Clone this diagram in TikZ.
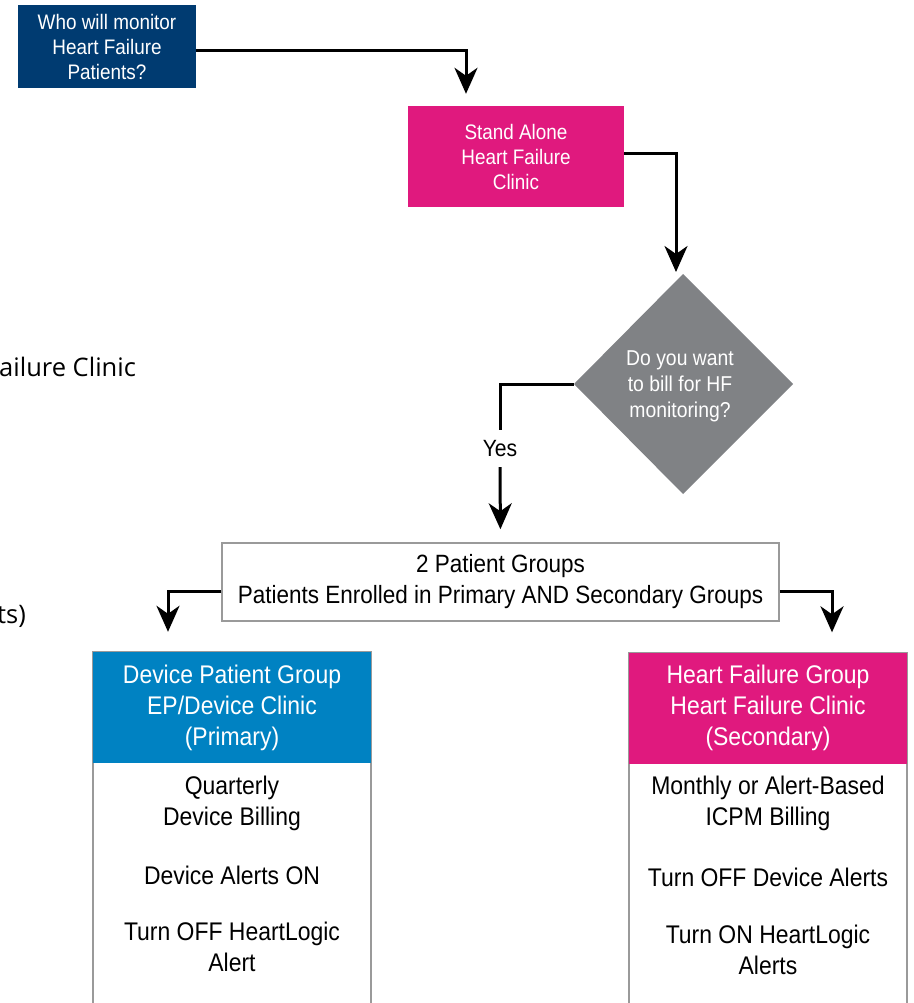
\documentclass[tikz,border=0pt]{standalone}
\usepackage{fontspec}
\setmainfont[FakeStretch=0.9]{Liberation Sans}
\newfontfamily\sidefont{Open Sans}
\usetikzlibrary{arrows.meta,calc}
\definecolor{navy}{HTML}{003B71}
\definecolor{magenta}{HTML}{E0197E}
\definecolor{slate}{HTML}{808285}
\definecolor{azure}{HTML}{0082C2}
\definecolor{edgegray}{HTML}{9A9A9A}
\begin{document}
\begin{tikzpicture}[x=1pt,y=-1pt,
  flow/.style={line width=3pt,-{Stealth[length=26pt,width=23pt,inset=8pt]}},
  link/.style={line width=3pt},
  topbox/.style={rectangle,inner sep=0pt,align=center,text=white,font=\fontsize{21}{25}\selectfont},
  colhead/.style={rectangle,inner sep=0pt,align=center,text=white,minimum width=278pt,minimum height=111pt,font=\fontsize{25.5}{31}\selectfont},
  coltext/.style={align=center,inner sep=0pt,font=\fontsize{25.5}{31}\selectfont}]
\useasboundingbox (0,0) rectangle (913,1003);

% top question and clinic box
\node[topbox,fill=navy,minimum width=178pt,minimum height=83pt] (who) at (107,46.5)
  {Who will monitor\\Heart Failure\\Patients?};
\node[topbox,fill=magenta,minimum width=216pt,minimum height=101pt] (clinic) at (516,156.5)
  {Stand Alone\\Heart Failure\\Clinic};

% decision diamond
\coordinate (dtop) at (683,274);
\coordinate (dright) at (793,384);
\coordinate (dbottom) at (683,494);
\coordinate (dleft) at (574,384);
\fill[slate] (dtop) -- (dright) -- (dbottom) -- (dleft) -- cycle;
\node[align=center,text=white,inner sep=0pt,font=\fontsize{21.5}{26}\selectfont] (ask) at (680,386)
  {Do you want\\to bill for HF\\monitoring?};

% patient groups box
\node[draw=edgegray,line width=1.5pt,minimum width=557pt,minimum height=78pt,inner sep=0pt,
  align=center,font=\fontsize{25}{31}\selectfont] (groups) at (500.5,582)
  {2 Patient Groups\\Patients Enrolled in Primary AND Secondary Groups};

% left column
\draw[edgegray,line width=1.5pt] (93,1004) -- (93,652) -- (371,652) -- (371,1004);
\node[colhead,fill=azure] (devhead) at (232,707.5)
  {Device Patient Group\\EP/Device Clinic\\(Primary)};
\node[coltext] (q1) at (232,803) {Quarterly\\Device Billing};
\node[coltext] (q2) at (232,875) {Device Alerts ON};
\node[coltext] (q3) at (232,947) {Turn OFF HeartLogic\\Alert};

% right column
\draw[edgegray,line width=1.5pt] (629,1004) -- (629,653) -- (907,653) -- (907,1004);
\node[colhead,fill=magenta] (hfhead) at (768,708)
  {Heart Failure Group\\Heart Failure Clinic\\(Secondary)};
\node[coltext] (m1) at (768,803) {Monthly or Alert-Based\\ICPM Billing};
\node[coltext] (m2) at (768,877) {Turn OFF Device Alerts};
\node[coltext] (m3) at (768,950) {Turn ON HeartLogic\\Alerts};

% partial side captions
\node[anchor=west,inner sep=0pt,font=\sidefont\fontsize{25.5}{28}\selectfont] (side1) at (-1,367) {ailure Clinic};
\node[anchor=west,inner sep=0pt,font=\sidefont\fontsize{25.5}{28}\selectfont] (side2) at (-3,616) {ts)};

% connectors
\coordinate (c1) at (466,42);
\draw[flow,shorten >=12pt] ([yshift=-4.5pt]who.east) -| (c1 |- clinic.north);
\coordinate (c2) at (676,159);
\draw[flow,shorten >=2pt] ([yshift=2.5pt]clinic.east) -| (c2 |- dtop);
\node[font=\fontsize{23.5}{25}\selectfont,inner sep=0pt,minimum height=37pt] (yes) at (500,448.5) {Yes};
\draw[link] (dleft) -| (yes.north);
\draw[flow,shorten >=13pt] (yes.south) -- (groups.north);
\coordinate (c3) at (168,573);
\coordinate (c4) at (832,573);
\draw[flow,shorten >=20pt] ([yshift=-9pt]groups.west) -| (c3 |- devhead.north);
\draw[flow,shorten >=20pt] ([yshift=-9pt]groups.east) -| (c4 |- hfhead.north);
\end{tikzpicture}
\end{document}
